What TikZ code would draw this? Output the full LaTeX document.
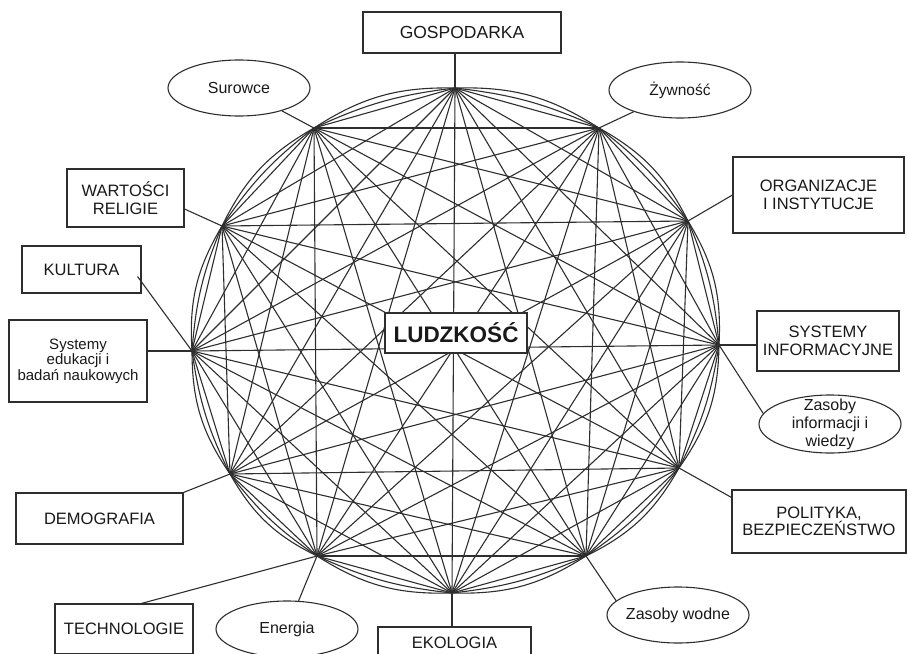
\documentclass[tikz,border=0pt]{standalone}
\usepackage{fontspec}
\setmainfont{Liberation Sans}
\usetikzlibrary{shapes.geometric,calc}
\begin{document}
\begin{tikzpicture}[x=1pt,y=-1pt,
  lin/.style={draw=black!82, line width=1.1pt},
  box/.style={draw=black!82, line width=1.1pt, fill=white, inner sep=0pt, align=center,
    text=black!90, font=\fontsize{16.5}{17.5}\selectfont},
  oval/.style={ellipse, draw=black!82, line width=1.1pt, fill=white, inner sep=0pt,
    minimum width=142pt, minimum height=56pt},
  txt/.style={inner sep=0pt, align=center, text=black!90, font=\fontsize{16}{18}\selectfont},
]
\useasboundingbox (0,0) rectangle (907,653);
\clip (0,0) rectangle (907,653);

\coordinate (p0) at (455,88);
\coordinate (p1) at (599,128);
\coordinate (p2) at (688,221);
\coordinate (p3) at (719,345);
\coordinate (p4) at (679,468);
\coordinate (p5) at (586,556);
\coordinate (p6) at (452,593);
\coordinate (p7) at (317,556);
\coordinate (p8) at (230,474);
\coordinate (p9) at (192,351);
\coordinate (p10) at (222,226);
\coordinate (p11) at (314,128);

% all chords
\foreach \i [evaluate=\i as \k using int(\i+1)] in {0,...,10}{
  \foreach \j in {\k,...,11}{
    \draw[lin] (p\i) -- (p\j);
  }
}
% outline arcs
\foreach \i in {0,...,11}{
  \pgfmathtruncatemacro\k{mod(\i+1,12)}
  \draw[lin] (p\i) to[bend left=17] (p\k);
  \draw[lin] (p\i) to[bend left=9] (p\k);
}

% centre
\node[box, minimum width=142pt, minimum height=40pt, font=\bfseries\fontsize{22.5}{24}\selectfont] (lud) at (456,333) {LUDZKOŚĆ};

% labels
\node[box, minimum width=198pt, minimum height=41pt, font=\fontsize{17.5}{18}\selectfont] (g) at (462,32.5) {GOSPODARKA};
\node[oval] (sur) at (239,88) {};
\node[txt] (surt) at (sur) {Surowce};
\node[oval] (zyw) at (680,90) {};
\node[txt, font=\fontsize{15.5}{18}\selectfont] (zywt) at (zyw) {Żywność};
\node[box, minimum width=171pt, minimum height=76pt] (org) at (818.5,195) {ORGANIZACJE\\ I INSTYTUCJE};
\node[box, minimum width=142pt, minimum height=60pt] (sys) at (828,341) {SYSTEMY\\INFORMACYJNE};
\node[oval, minimum height=58pt] (zi) at (830,424) {};
\node[txt] (zit) at (zi) {Zasoby\\informacji i\\wiedzy};
\node[box, minimum width=174pt, minimum height=63pt] (pol) at (819,521.5) {POLITYKA,\\BEZPIECZEŃSTWO};
\node[oval] (zw) at (678,615) {};
\node[txt] (zwt) at (zw) {Zasoby wodne};
\node[box, minimum width=153pt, minimum height=32pt] (eko) at (454.5,643) {EKOLOGIA};
\node[oval] (en) at (287,629) {};
\node[txt] (ent) at (en) {Energia};
\node[box, minimum width=138pt, minimum height=50pt] (tech) at (124,629) {TECHNOLOGIE};
\node[box, minimum width=167pt, minimum height=51pt] (demo) at (99.5,518.5) {DEMOGRAFIA};
\node[box, minimum width=138pt, minimum height=82pt, font=\fontsize{15}{15.5}\selectfont] (edu) at (78,361) {Systemy\\edukacji i\\badań naukowych};
\node[box, minimum width=119pt, minimum height=47pt] (kul) at (81.5,269.5) {KULTURA};
\node[box, minimum width=117pt, minimum height=58pt] (wart) at (125.5,198) {WARTOŚCI\\RELIGIE};

% connectors
\draw[lin] (p0) -- (p0 |- g.south);
\draw[lin] (p11) -- (sur);
\draw[lin] (p1) -- (zyw);
\draw[lin] (p2) -- (org.west);
\draw[lin] (p3) -- (p3 -| sys.west);
\draw[lin] (p3) -- (zi.171);
\draw[lin] (p4) -- ([yshift=-8pt]pol.north west);
\draw[lin] (p5) -- (zw.167);
\draw[lin] (p6) -- (p6 |- eko.north);
\draw[lin] (p7) -- (en);
\draw[lin] (p7) -- ($(tech.north)!0.25!(tech.north east)$);
\draw[lin] (p8) -- (demo.north east);
\draw[lin] (p9) -- (p9 -| edu.east);
\draw[lin] (p9) -- ([xshift=-4pt,yshift=-7pt]kul.east);
\draw[lin] (p10) -- ([yshift=-11pt]wart.east);
\end{tikzpicture}
\end{document}
